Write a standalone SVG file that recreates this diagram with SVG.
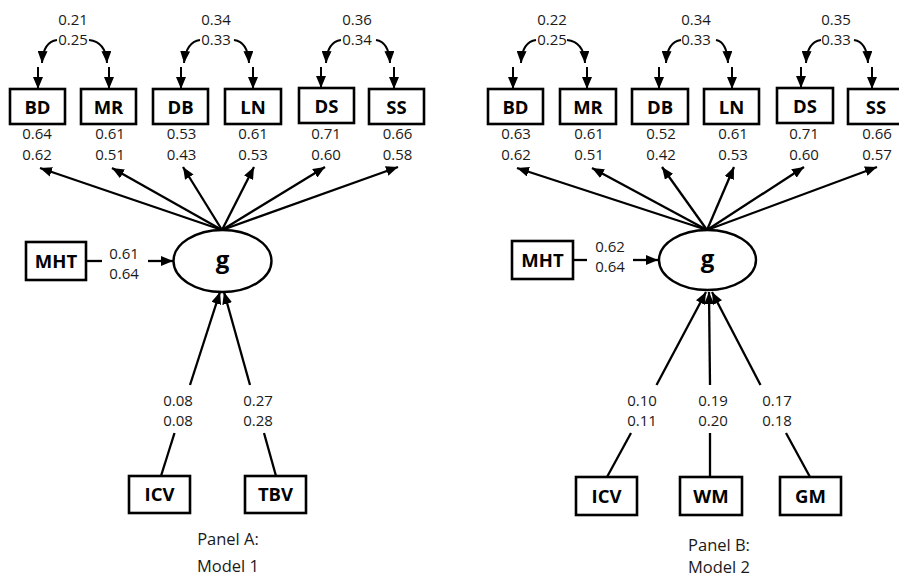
<svg xmlns="http://www.w3.org/2000/svg" width="899" height="578" viewBox="0 0 899 578">
<style>
.box{fill:#fff;stroke:#000;stroke-width:2.6}
.ell{fill:#fff;stroke:#000;stroke-width:2.4}
.lab{font-family:"Open Sans","Liberation Sans",sans-serif;font-weight:bold;font-size:18.5px;fill:#000;text-anchor:middle}
.g{font-family:"Open Sans","Liberation Sans",sans-serif;font-weight:bold;font-size:24px;fill:#000;text-anchor:middle}
.num{font-family:"Open Sans","Liberation Sans",sans-serif;font-size:15px;fill:#1a1a1a;text-anchor:middle}
.pan{font-family:"Open Sans","Liberation Sans",sans-serif;font-size:16.5px;fill:#1a1a1a;text-anchor:middle}
.ln{fill:none;stroke:#000;stroke-width:2.3}
.ar{fill:none;stroke:#000;stroke-width:2.3;marker-end:url(#ah)}
.cv{fill:none;stroke:#000;stroke-width:2;marker-end:url(#ah)}
</style>
<defs>
<marker id="ah" markerUnits="userSpaceOnUse" markerWidth="13" markerHeight="10" refX="12" refY="5" orient="auto">
<path d="M0,0 L12,5 L0,10 z" fill="#000"/>
</marker>
</defs>
<rect width="899" height="578" fill="#fff"/>

<g id="connectors">
<!-- Panel A covariances -->
<path class="cv" d="M57,40 Q43,42 42,63"/><path class="cv" d="M38,67 L38,89"/>
<path class="cv" d="M89,40 Q106,42 107,63"/><path class="cv" d="M109,67 L109,89"/>
<path class="cv" d="M200,40 Q186,42 184,63"/><path class="cv" d="M181,67 L181,89"/>
<path class="cv" d="M234,40 Q248,42 249,63"/><path class="cv" d="M253,67 L253,89"/>
<path class="cv" d="M341,40 Q327,42 326,63"/><path class="cv" d="M321,67 L321,88"/>
<path class="cv" d="M376,40 Q389,42 390,63"/><path class="cv" d="M394,67 L394,89"/>
<!-- Panel A loadings -->
<path class="ar" d="M222,230 L40,168"/>
<path class="ar" d="M222,230 L112,168"/>
<path class="ar" d="M222,230 L183,167"/>
<path class="ar" d="M222,230 L254,167"/>
<path class="ar" d="M222,230 L325,167"/>
<path class="ar" d="M222,230 L398,167"/>
<!-- Panel A MHT -->
<path class="ln" d="M86,261 L102,261"/>
<path class="ar" d="M148,261 L173,261"/>
<!-- Panel A ICV / TBV -->
<path class="ln" d="M161,476 L174.5,433"/>
<path class="ar" d="M190,385 L220,292"/>
<path class="ln" d="M276,476 L264,433"/>
<path class="ar" d="M250,385 L224,292"/>

<!-- Panel B covariances -->
<path class="cv" d="M536,40 Q522,42 521,63"/><path class="cv" d="M513,67 L513,89"/>
<path class="cv" d="M567,40 Q584,42 585,63"/><path class="cv" d="M587,67 L587,89"/>
<path class="cv" d="M681,40 Q667,42 666,63"/><path class="cv" d="M659,67 L659,89"/>
<path class="cv" d="M716,40 Q727,42 728,63"/><path class="cv" d="M732,67 L732,89"/>
<path class="cv" d="M821,40 Q807,42 806,63"/><path class="cv" d="M801,67 L801,88"/>
<path class="cv" d="M854,40 Q867,42 868,63"/><path class="cv" d="M872,67 L872,89"/>
<!-- Panel B loadings -->
<path class="ar" d="M707,230 L517,168"/>
<path class="ar" d="M707,230 L592,168"/>
<path class="ar" d="M707,230 L662,167"/>
<path class="ar" d="M707,230 L734,167"/>
<path class="ar" d="M707,230 L804,167"/>
<path class="ar" d="M707,230 L877,167"/>
<!-- Panel B MHT -->
<path class="ln" d="M573,260 L587,260"/>
<path class="ar" d="M633,260 L658,260"/>
<!-- Panel B ICV / WM / GM -->
<path class="ln" d="M607,477 L631,433"/>
<path class="ar" d="M656.5,385 L706,292"/>
<path class="ln" d="M710,477 L710,433"/>
<path class="ar" d="M710,385 L709,292"/>
<path class="ln" d="M810,477 L786,433"/>
<path class="ar" d="M760.5,385 L712,292"/>
</g>

<!-- Panel A nodes -->
<g id="A_BD"><rect class="box" x="10" y="89" width="55" height="35"/><text class="lab" x="37.5" y="114">BD</text></g>
<g id="A_MR"><rect class="box" x="81" y="89" width="55" height="35"/><text class="lab" x="108.5" y="114">MR</text></g>
<g id="A_DB"><rect class="box" x="153" y="89" width="55" height="35"/><text class="lab" x="180.5" y="114">DB</text></g>
<g id="A_LN"><rect class="box" x="225" y="89" width="56" height="35"/><text class="lab" x="253" y="114">LN</text></g>
<g id="A_DS"><rect class="box" x="299" y="88" width="55" height="35"/><text class="lab" x="326.5" y="113">DS</text></g>
<g id="A_SS"><rect class="box" x="369" y="89" width="55" height="35"/><text class="lab" x="396.5" y="114">SS</text></g>
<g id="A_MHT"><rect class="box" x="26" y="242" width="60" height="38"/><text class="lab" x="56" y="268">MHT</text></g>
<g id="A_g"><ellipse class="ell" cx="222.5" cy="261" rx="49" ry="31"/><text class="g" x="222.5" y="268">g</text></g>
<g id="A_ICV"><rect class="box" x="129" y="476" width="61" height="37"/><text class="lab" x="159.5" y="501">ICV</text></g>
<g id="A_TBV"><rect class="box" x="245" y="476" width="61" height="37"/><text class="lab" x="275.5" y="501">TBV</text></g>

<g id="A_labels">
<text class="num" x="73" y="25">0.21</text><text class="num" x="73" y="45">0.25</text>
<text class="num" x="216" y="25">0.34</text><text class="num" x="216" y="45">0.33</text>
<text class="num" x="357" y="25">0.36</text><text class="num" x="357" y="45">0.34</text>
<text class="num" x="37" y="138.5">0.64</text><text class="num" x="37" y="159.5">0.62</text>
<text class="num" x="110" y="138.5">0.61</text><text class="num" x="110" y="159.5">0.51</text>
<text class="num" x="181.5" y="138.5">0.53</text><text class="num" x="181.5" y="159.5">0.43</text>
<text class="num" x="253" y="138.5">0.61</text><text class="num" x="253" y="159.5">0.53</text>
<text class="num" x="326" y="138.5">0.71</text><text class="num" x="326" y="159.5">0.60</text>
<text class="num" x="397.5" y="138.5">0.66</text><text class="num" x="397.5" y="159.5">0.58</text>
<text class="num" x="124" y="259">0.61</text><text class="num" x="124" y="279">0.64</text>
<text class="num" x="178" y="405.5">0.08</text><text class="num" x="178" y="425.5">0.08</text>
<text class="num" x="258" y="405.5">0.27</text><text class="num" x="258" y="425.5">0.28</text>
<text class="pan" x="228" y="545">Panel A:</text>
<text class="pan" x="228" y="572">Model 1</text>
</g>

<!-- Panel B nodes -->
<g id="B_BD"><rect class="box" x="488" y="89" width="55" height="35"/><text class="lab" x="515.5" y="114">BD</text></g>
<g id="B_MR"><rect class="box" x="560" y="89" width="56" height="35"/><text class="lab" x="588" y="114">MR</text></g>
<g id="B_DB"><rect class="box" x="632" y="89" width="56" height="35"/><text class="lab" x="660" y="114">DB</text></g>
<g id="B_LN"><rect class="box" x="704" y="89" width="55" height="35"/><text class="lab" x="731.5" y="114">LN</text></g>
<g id="B_DS"><rect class="box" x="777" y="88" width="56" height="35"/><text class="lab" x="805" y="113">DS</text></g>
<g id="B_SS"><rect class="box" x="848" y="89" width="56" height="35"/><text class="lab" x="876" y="114">SS</text></g>
<g id="B_MHT"><rect class="box" x="512" y="241" width="61" height="38"/><text class="lab" x="542.5" y="267">MHT</text></g>
<g id="B_g"><ellipse class="ell" cx="707.5" cy="260" rx="48.5" ry="30"/><text class="g" x="707.5" y="267">g</text></g>
<g id="B_ICV"><rect class="box" x="576" y="477" width="61" height="38"/><text class="lab" x="606.5" y="503">ICV</text></g>
<g id="B_WM"><rect class="box" x="680" y="477" width="62" height="38"/><text class="lab" x="711" y="503">WM</text></g>
<g id="B_GM"><rect class="box" x="780" y="477" width="61" height="38"/><text class="lab" x="810.5" y="503">GM</text></g>

<g id="B_labels">
<text class="num" x="552" y="25">0.22</text><text class="num" x="552" y="45">0.25</text>
<text class="num" x="696" y="25">0.34</text><text class="num" x="696" y="45">0.33</text>
<text class="num" x="836" y="25">0.35</text><text class="num" x="836" y="45">0.33</text>
<text class="num" x="516" y="138.5">0.63</text><text class="num" x="516" y="159.5">0.62</text>
<text class="num" x="589" y="138.5">0.61</text><text class="num" x="589" y="159.5">0.51</text>
<text class="num" x="661" y="138.5">0.52</text><text class="num" x="661" y="159.5">0.42</text>
<text class="num" x="733" y="138.5">0.61</text><text class="num" x="733" y="159.5">0.53</text>
<text class="num" x="804" y="138.5">0.71</text><text class="num" x="804" y="159.5">0.60</text>
<text class="num" x="877" y="138.5">0.66</text><text class="num" x="877" y="159.5">0.57</text>
<text class="num" x="610" y="252">0.62</text><text class="num" x="610" y="271.5">0.64</text>
<text class="num" x="642" y="405.5">0.10</text><text class="num" x="642" y="425.5">0.11</text>
<text class="num" x="713" y="405.5">0.19</text><text class="num" x="713" y="425.5">0.20</text>
<text class="num" x="777" y="405.5">0.17</text><text class="num" x="777" y="425.5">0.18</text>
<text class="pan" x="719" y="551">Panel B:</text>
<text class="pan" x="719" y="572.5">Model 2</text>
</g>
</svg>
